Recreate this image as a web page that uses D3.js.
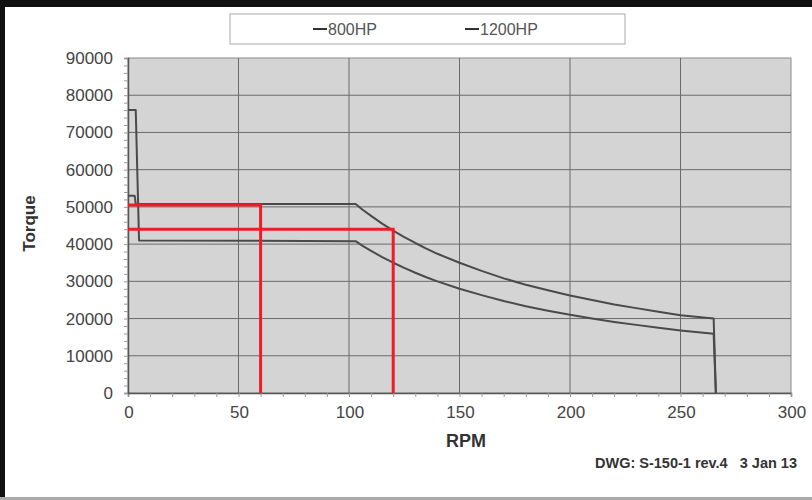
<!DOCTYPE html>
<html>
<head>
<meta charset="utf-8">
<script src="https://cdn.jsdelivr.net/npm/d3@7"></script>
<style>
  body { margin: 0; background: #fff; }
  svg { display: block; font-family: "Liberation Sans", Arial, sans-serif; }
</style>
</head>
<body>
<div id="chart"></div>
<script>
// chart values
const rpm800 = [0, 3.5, 5, 103, 106, 110, 115, 120, 125, 130, 135, 140, 150, 160, 170, 180, 190, 200, 210, 220, 230, 240, 250, 265, 266];
const torque800 = [76000, 76000, 41000, 40800, 39600, 38200, 36500, 35000, 33600, 32300, 31100, 30000, 28000, 26300, 24700, 23300, 22100, 21000, 20000, 19100, 18300, 17500, 16800, 15900, 0];
const rpm1200 = [0, 3, 3.5, 103, 106, 110, 115, 120, 125, 130, 135, 140, 150, 160, 170, 180, 190, 200, 210, 220, 230, 240, 250, 265, 266];
const torque1200 = [53000, 53000, 50800, 50800, 49300, 47600, 45500, 43600, 41900, 40300, 38800, 37400, 35000, 32800, 30800, 29100, 27600, 26200, 25000, 23800, 22800, 21800, 20900, 20000, 0];
const seriesNames = ['800HP', '1200HP'];
const xTicks = [0, 50, 100, 150, 200, 250, 300];
const yTicks = [0, 10000, 20000, 30000, 40000, 50000, 60000, 70000, 80000, 90000];
// red marker lines: [rpm, torque]
const markers = [[60, 50500], [120, 44000]];

const width = 812;
const height = 500;
const margin = {top: 58, right: 21, bottom: 107, left: 128};

const svg = d3.select('#chart').append('svg')
    .attr('width', width)
    .attr('height', height);

// frame
svg.append('rect').attr('x', 0).attr('y', 0).attr('width', width).attr('height', height).attr('fill', '#fff');
svg.append('rect').attr('x', 0).attr('y', 0).attr('width', width).attr('height', 7).attr('fill', '#111');
svg.append('rect').attr('x', 0).attr('y', 0).attr('width', 5).attr('height', height).attr('fill', '#111');
svg.append('rect').attr('x', 0).attr('y', 497).attr('width', width).attr('height', 3).attr('fill', '#aaa');

const x = d3.scaleLinear().domain([0, 300]).range([margin.left, width - margin.right]);
const y = d3.scaleLinear().domain([0, 90000]).range([height - margin.bottom, margin.top]);

// plot background
svg.append('rect')
    .attr('x', x(0)).attr('y', y(90000))
    .attr('width', x(300) - x(0)).attr('height', y(0) - y(90000))
    .attr('fill', '#d4d4d4')
    .attr('stroke', '#8a8a8a');

// grid
svg.append('g').selectAll('line').data(yTicks.slice(1, -1)).join('line')
    .attr('x1', x(0)).attr('x2', x(300))
    .attr('y1', d => y(d)).attr('y2', d => y(d))
    .attr('stroke', '#6a6a6a').attr('stroke-width', 1);
svg.append('g').selectAll('line').data(xTicks.slice(1, -1)).join('line')
    .attr('y1', y(0)).attr('y2', y(90000))
    .attr('x1', d => x(d)).attr('x2', d => x(d))
    .attr('stroke', '#6a6a6a').attr('stroke-width', 1);

// axes
const xAxis = svg.append('g')
    .attr('transform', `translate(0,${y(0)})`)
    .call(d3.axisBottom(x).tickValues(d3.range(0, 301, 10)).tickSize(4).tickFormat(''));
xAxis.select('.domain').attr('stroke', '#555').attr('stroke-width', 1.5);
xAxis.selectAll('line').attr('stroke', '#999');

const yAxis = svg.append('g')
    .attr('transform', `translate(${x(0)},0)`)
    .call(d3.axisLeft(y).tickValues(d3.range(0, 90001, 2000)).tickSize(4).tickFormat(''));
yAxis.select('.domain').attr('stroke', '#555').attr('stroke-width', 1.5);
yAxis.selectAll('line').attr('stroke', '#999');

svg.append('g').selectAll('text').data(xTicks).join('text')
    .attr('x', d => x(d) + 1).attr('y', y(0) + 25)
    .attr('text-anchor', 'middle')
    .attr('font-size', 17).attr('fill', '#444')
    .text(d => d);
svg.append('g').selectAll('text').data(yTicks).join('text')
    .attr('x', x(0) - 15).attr('y', d => y(d) + 6)
    .attr('text-anchor', 'end')
    .attr('font-size', 17).attr('fill', '#444')
    .text(d => d);

// titles
svg.append('text')
    .attr('x', 466).attr('y', 447)
    .attr('text-anchor', 'middle')
    .attr('font-size', 18).attr('font-weight', 'bold').attr('fill', '#333')
    .text('RPM');
svg.append('text')
    .attr('transform', `translate(35,${(y(0) + y(90000)) / 2 - 2}) rotate(-90)`)
    .attr('text-anchor', 'middle')
    .attr('font-size', 17).attr('font-weight', 'bold').attr('fill', '#333')
    .text('Torque');
svg.append('text')
    .attr('x', 797).attr('y', 468)
    .attr('text-anchor', 'end')
    .attr('font-size', 14.5).attr('font-weight', 'bold').attr('fill', '#333')
    .attr('xml:space', 'preserve')
    .text('DWG: S-150-1 rev.4   3 Jan 13');

// curves
const line = d3.line().x(d => x(d[0])).y(d => y(d[1]));
const curves = [d3.zip(rpm800, torque800), d3.zip(rpm1200, torque1200)];
svg.append('g').selectAll('path').data(curves).join('path')
    .attr('d', line)
    .attr('fill', 'none')
    .attr('stroke', '#4a4a4a')
    .attr('stroke-width', 2)
    .attr('stroke-linejoin', 'round');

// red marker lines
const red = svg.append('g');
markers.forEach(m => {
    red.append('path')
        .attr('d', line([[0, m[1]], [m[0], m[1]], [m[0], 0]]))
        .attr('fill', 'none')
        .attr('stroke', '#ee1c24')
        .attr('stroke-width', 3);
});

// legend
svg.append('rect')
    .attr('x', 230).attr('y', 14).attr('width', 395).attr('height', 30)
    .attr('fill', '#fff').attr('stroke', '#aaa');
const legX = [313, 465];
const leg = svg.append('g').selectAll('g').data(seriesNames).join('g')
    .attr('transform', (d, i) => `translate(${legX[i]},29)`);
leg.append('line').attr('x1', 0).attr('x2', 14).attr('stroke', '#333').attr('stroke-width', 2);
leg.append('text').attr('x', 15).attr('y', 6)
    .attr('font-size', 16).attr('fill', '#555')
    .text(d => d);
</script>
</body>
</html>
